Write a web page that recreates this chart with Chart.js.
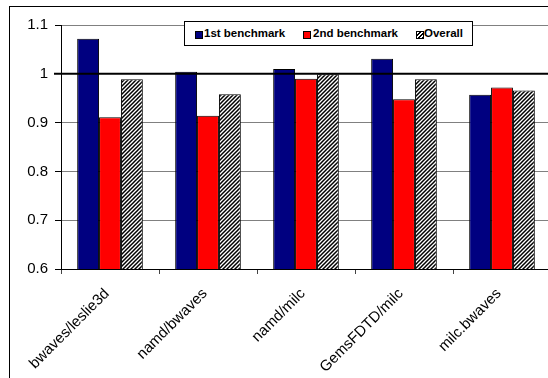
<!DOCTYPE html>
<html>
<head>
<meta charset="utf-8">
<script src="https://cdn.jsdelivr.net/npm/chart.js@4"></script>
<style>
  html, body { margin: 0; padding: 0; background: #fff; overflow: hidden; width: 548px; height: 378px; }
  #wrap { position: absolute; left: 0; top: 0; width: 560px; height: 390px; }
  #frame { position: absolute; left: 9px; top: 6px; width: 600px; height: 500px; border: 1px solid #000; pointer-events: none; }
  #legend { position: absolute; left: 184px; top: 21px; width: 287px; height: 23px; border: 1px solid #000; background: #fff;
            font-family: "Liberation Sans", Arial, sans-serif; font-weight: bold; font-size: 11.5px; color: #000; }
  .sw { position: absolute; top: 9px; width: 6px; height: 6px; border: 1px solid #000; }
  .lt { position: absolute; top: 4px; line-height: 15px; white-space: nowrap; }
</style>
</head>
<body>
<div id="wrap"><canvas id="c" width="560" height="390"></canvas></div>
<div id="frame"></div>
<div id="legend"></div>
<script>
// Workload pairs and normalised results per benchmark
const categories = ["bwaves/leslie3d", "namd/bwaves", "namd/milc", "GemsFDTD/milc", "milc.bwaves"];
const firstBenchmark = [1.072, 1.004, 1.010, 1.031, 0.957];
const secondBenchmark = [0.911, 0.914, 0.990, 0.948, 0.972];
const overall = [0.989, 0.958, 0.999, 0.989, 0.966];
const seriesNames = ["1st benchmark", "2nd benchmark", "Overall"];
const yTicks = [0.6, 0.7, 0.8, 0.9, 1.0, 1.1];

const FONT = "'Liberation Sans', Arial, sans-serif";

// Diagonal black/white hatch used for the "Overall" series
function makeHatch() {
  const t = document.createElement('canvas');
  t.width = 4; t.height = 4;
  const g = t.getContext('2d');
  g.fillStyle = '#fff';
  g.fillRect(0, 0, 4, 4);
  g.strokeStyle = '#000';
  g.lineWidth = 1.5;
  g.beginPath();
  g.moveTo(-1, 5); g.lineTo(5, -1);
  g.moveTo(-1, 1); g.lineTo(1, -1);
  g.moveTo(3, 5); g.lineTo(5, 3);
  g.stroke();
  return g.createPattern(t, 'repeat');
}
const hatch = makeHatch();

// Reference line at 1.0 drawn over the bars
const unityLine = {
  id: 'unityLine',
  afterDatasetsDraw(chart) {
    const y = chart.scales.y.getPixelForValue(1);
    const ctx = chart.ctx;
    ctx.save();
    ctx.strokeStyle = '#000';
    ctx.lineWidth = 2;
    ctx.beginPath();
    ctx.moveTo(chart.chartArea.left - 7, y);
    ctx.lineTo(chart.chartArea.right, y);
    ctx.stroke();
    ctx.restore();
  }
};

const colors = ['#000080', '#ff0000', hatch];
const values = [firstBenchmark, secondBenchmark, overall];

new Chart(document.getElementById('c'), {
  type: 'bar',
  data: {
    labels: categories,
    datasets: seriesNames.map((n, i) => ({
      label: n,
      data: values[i],
      backgroundColor: colors[i],
      borderColor: '#000',
      borderWidth: 1,
      categoryPercentage: 0.67,
      barPercentage: 1.0
    }))
  },
  options: {
    responsive: false,
    animation: false,
    layout: { padding: { top: 25, right: 9, left: 0, bottom: 0 } },
    plugins: { legend: { display: false }, tooltip: { enabled: false } },
    scales: {
      x: {
        grid: { display: true, drawOnChartArea: false, offset: true, tickLength: 5, tickColor: '#444' },
        border: { color: '#000', width: 1 },
        ticks: { color: '#000', font: { family: FONT, size: 15 }, minRotation: 45, maxRotation: 45, padding: 11, labelOffset: -3 },
        afterFit(s) { s.height = 121; }
      },
      y: {
        min: 0.6, max: 1.1,
        afterBuildTicks(s) { s.ticks = yTicks.map(v => ({ value: v })); },
        grid: {
          color: ctx => (ctx.tick && Math.abs(ctx.tick.value - 1) < 1e-9) ? '#000' : '#808080',
          lineWidth: 1, tickLength: 6, tickColor: '#000'
        },
        border: { color: '#000', width: 1 },
        ticks: {
          color: '#000', font: { family: FONT, size: 15 }, padding: 7,
          callback: v => String(Number(v.toFixed(1)))
        },
        afterFit(s) { s.width = 61; }
      }
    }
  },
  plugins: [unityLine]
});

// Legend box
const legend = document.getElementById('legend');
const swatchX = [10, 118, 231];
const textX = [19, 128, 239];
const swatchBg = ['#000080', '#ff0000',
  'repeating-linear-gradient(-45deg, #000 0 1.2px, #fff 1.2px 2.6px)'];
seriesNames.forEach((n, i) => {
  const sw = document.createElement('div');
  sw.className = 'sw';
  sw.style.left = swatchX[i] + 'px';
  sw.style.background = swatchBg[i];
  legend.appendChild(sw);
  const t = document.createElement('div');
  t.className = 'lt';
  t.style.left = textX[i] + 'px';
  t.textContent = n;
  legend.appendChild(t);
});
</script>
</body>
</html>
